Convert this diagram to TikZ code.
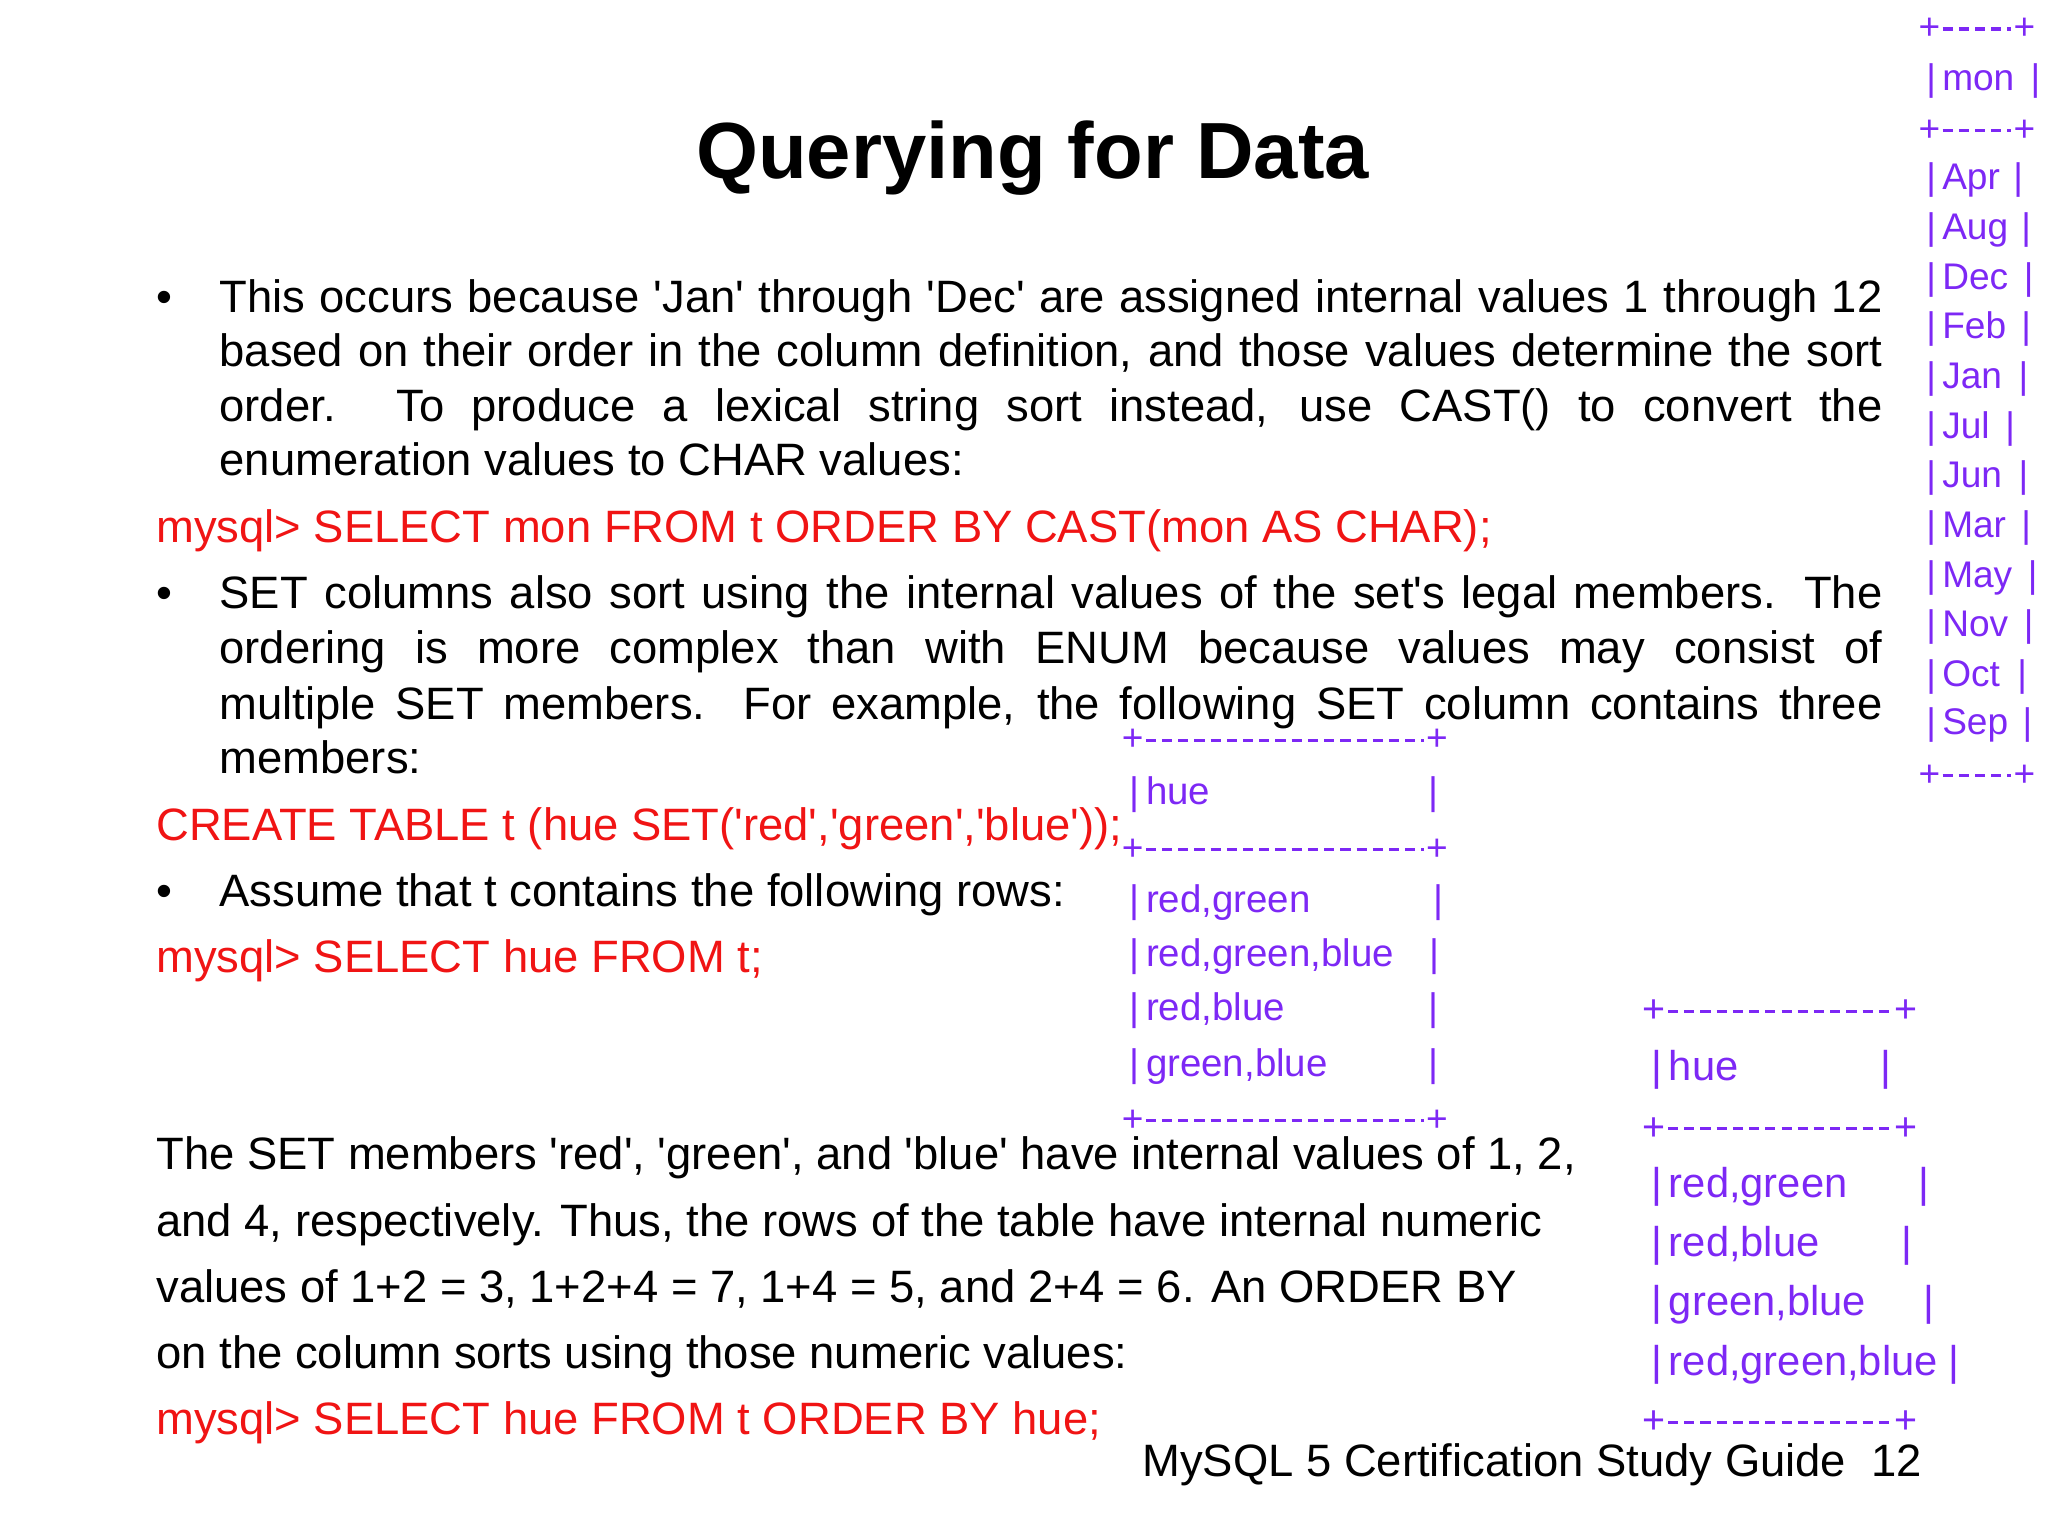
\documentclass[tikz,border=0pt]{standalone}
\usepackage{fontspec}
\defaultfontfeatures[\rmfamily]{}
\setmainfont{Liberation Sans}
\definecolor{vio}{RGB}{125,40,245}
\definecolor{sqlred}{RGB}{240,20,20}
\begin{document}
\begin{tikzpicture}[x=0.01cm,y=-0.01cm,
  body/.style={anchor=base west,inner sep=0pt,font=\fontsize{9.8}{11}\selectfont},
  red/.style={body,text=sqlred},
  tv/.style={anchor=base west,inner sep=0pt,text=vio,font=\fontsize{#1}{9}\selectfont},
  tv/.default=8]
\useasboundingbox (0,0) rectangle (1555,1166);
\newcommand\J[3]{\node[body] (#1) at (166,#2) {\makebox[12.62cm][s]{#3}};}
\newcommand\Lb[3]{\node[body] (#1) at (166,#2) {#3};}
\newcommand\Bu[2]{\node[body] (#1) at (118,#2) {\textbullet};}
\node[font=\bfseries\fontsize{17.2}{20}\selectfont] (title) at (784,120) {Querying for Data};
\Bu{b1}{237}
\J{l1}{237}{This occurs because 'Jan' through 'Dec' are assigned internal values 1 through 12}
\J{l2}{278}{based on their order in the column definition, and those values determine the sort}
\J{l3}{320}{order. To produce a lexical string sort instead, use CAST() to convert the}
\Lb{l4}{361}{enumeration values to CHAR values:}
\node[red] (r1) at (118,412) {mysql> SELECT mon FROM t ORDER BY CAST(mon AS CHAR);};
\Bu{b2}{462}
\J{l5}{462}{SET columns also sort using the internal values of the set's legal members. The}
\J{l6}{504}{ordering is more complex than with ENUM because values may consist of}
\J{l7}{546}{multiple SET members. For example, the following SET column contains three}
\Lb{l8}{587}{members:}
\node[red] (r2) at (118,638) {CREATE TABLE t (hue SET('red','green','blue'));};
\Bu{b3}{688}
\Lb{l9}{688}{Assume that t contains the following rows:}
\node[red] (r3) at (118,738) {mysql> SELECT hue FROM t;};
\node[body] (p1) at (118,888) {The SET members 'red', 'green', and 'blue' have internal values of 1, 2,};
\node[body] (p2) at (118,939) {and 4, respectively. Thus, the rows of the table have internal numeric};
\node[body] (p3) at (118,989) {values of 1+2 = 3, 1+2+4 = 7, 1+4 = 5, and 2+4 = 6. An ORDER BY};
\node[body] (p4) at (118,1039) {on the column sorts using those numeric values:};
\node[red] (r4) at (118,1089) {mysql> SELECT hue FROM t ORDER BY hue;};
\node[body,anchor=base east] (foot) at (1460,1121) {MySQL 5 Certification Study Guide\ \ 12};
% separator lines
\newcommand\Sep[5]{%
  \node[tv=#4,anchor=center,inner sep=0.3pt] (#5a) at (#1+5,#3) {+};
  \node[tv=#4,anchor=center,inner sep=0.3pt] (#5b) at (#2-5,#3) {+};
  \draw[vio,line width=0.7pt,dash pattern=on 2.2pt off 1.3pt] (#5a.east) -- (#5b.west);}
\newcommand\Row[6]{%
  \node[tv=#5] (#6a) at (#1,#3+7) {|\,#4};
  \node[tv=#5] (#6b) at (#2,#3+7) {|};}
% top-right table
\Sep{1460}{1542}{22}{8}{ta}
\Row{1462}{1541}{62}{mon}{8}{tm}
\Sep{1460}{1542}{99}{8}{tb}
\Row{1462}{1528}{137}{Apr}{8}{t1}
\Row{1462}{1534}{175}{Aug}{8}{t2}
\Row{1462}{1536}{213}{Dec}{8}{t3}
\Row{1462}{1534}{250}{Feb}{8}{t4}
\Row{1462}{1532}{288}{Jan}{8}{t5}
\Row{1462}{1522}{326}{Jul}{8}{t6}
\Row{1462}{1532}{363}{Jun}{8}{t7}
\Row{1462}{1534}{401}{Mar}{8}{t8}
\Row{1462}{1539}{439}{May}{8}{t9}
\Row{1462}{1536}{476}{Nov}{8}{t10}
\Row{1462}{1531}{514}{Oct}{8}{t11}
\Row{1462}{1535}{551}{Sep}{8}{t12}
\Sep{1460}{1542}{589}{8}{tc}
% middle table
\Sep{855}{1096}{562}{8}{ma}
\Row{857}{1084}{604}{hue}{8.3}{m0}
\Sep{855}{1096}{645}{8}{mb}
\Row{857}{1088}{686}{red,green}{8.3}{m1}
\Row{857}{1085}{727}{red,green,blue}{8.3}{m2}
\Row{857}{1084}{768}{red,blue}{8.3}{m3}
\Row{857}{1084}{810}{green,blue}{8.3}{m4}
\Sep{855}{1096}{851}{8}{mc}
% bottom table
\Sep{1251}{1452}{768}{8.5}{ba}
\Row{1253}{1427}{813}{hue}{9}{n0}
\Sep{1251}{1452}{857}{8.5}{bb}
\Row{1253}{1456}{902}{red,green}{9}{n1}
\Row{1253}{1443}{947}{red,blue}{9}{n2}
\Row{1253}{1460}{992}{green,blue}{9}{n3}
\Row{1253}{1479}{1037}{red,green,blue}{9}{n4}
\Sep{1251}{1452}{1080}{8.5}{bc}
\end{tikzpicture}
\end{document}
